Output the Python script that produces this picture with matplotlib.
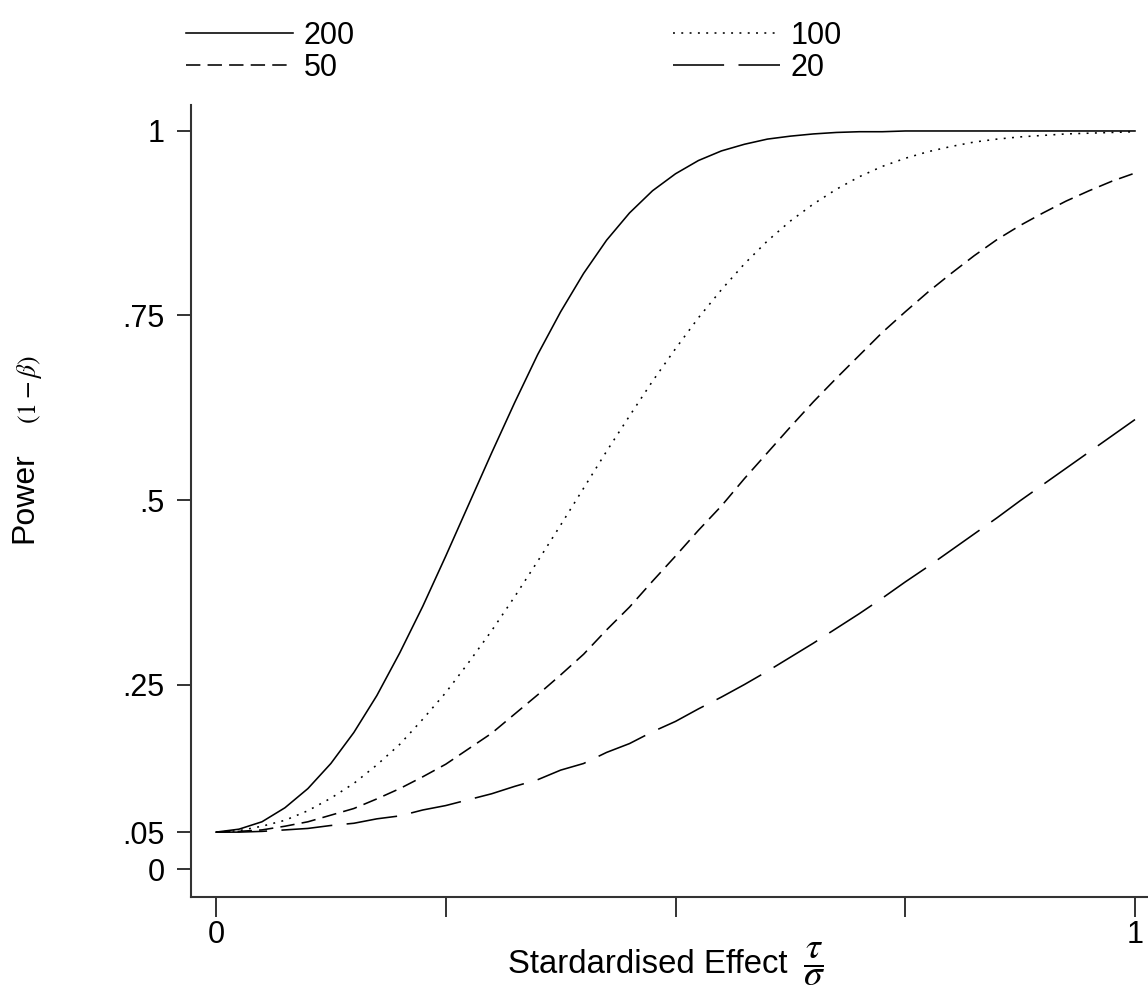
import matplotlib
matplotlib.use("Agg")
import matplotlib.pyplot as plt
from matplotlib.lines import Line2D

plt.rcParams['font.family'] = ['Liberation Sans', 'DejaVu Sans']
plt.rcParams['mathtext.fontset'] = 'stix'

# Standardised effect size (tau / sigma)
effect = [0.000, 0.025, 0.050, 0.075, 0.100, 0.125, 0.150, 0.175, 0.200, 0.225,
          0.250, 0.275, 0.300, 0.325, 0.350, 0.375, 0.400, 0.425, 0.450, 0.475,
          0.500, 0.525, 0.550, 0.575, 0.600, 0.625, 0.650, 0.675, 0.700, 0.725,
          0.750, 0.775, 0.800, 0.825, 0.850, 0.875, 0.900, 0.925, 0.950, 0.975,
          1.000]

# Power (1 - beta) for each total sample size
power_200 = [0.050, 0.054, 0.064, 0.083, 0.109, 0.143, 0.185, 0.235, 0.293, 0.356,
             0.424, 0.494, 0.564, 0.632, 0.697, 0.755, 0.807, 0.852, 0.889, 0.919,
             0.942, 0.960, 0.973, 0.982, 0.989, 0.993, 0.996, 0.998, 0.999, 0.999,
             1.000, 1.000, 1.000, 1.000, 1.000, 1.000, 1.000, 1.000, 1.000, 1.000,
             1.000]
power_100 = [0.050, 0.052, 0.058, 0.066, 0.079, 0.096, 0.116, 0.141, 0.169, 0.203,
             0.239, 0.280, 0.323, 0.369, 0.417, 0.466, 0.516, 0.566, 0.614, 0.661,
             0.705, 0.747, 0.785, 0.820, 0.851, 0.878, 0.901, 0.921, 0.938, 0.952,
             0.963, 0.972, 0.979, 0.985, 0.989, 0.992, 0.994, 0.996, 0.997, 0.998,
             0.999]
power_50 = [0.050, 0.051, 0.053, 0.058, 0.064, 0.073, 0.082, 0.095, 0.109, 0.125,
            0.142, 0.163, 0.184, 0.210, 0.236, 0.263, 0.291, 0.324, 0.355, 0.390,
            0.424, 0.459, 0.492, 0.529, 0.564, 0.599, 0.633, 0.665, 0.696, 0.727,
            0.755, 0.782, 0.807, 0.831, 0.853, 0.872, 0.889, 0.905, 0.919, 0.932,
            0.943]
power_20 = [0.050, 0.050, 0.051, 0.053, 0.055, 0.059, 0.062, 0.068, 0.072, 0.080,
            0.086, 0.094, 0.102, 0.112, 0.121, 0.134, 0.143, 0.158, 0.170, 0.186,
            0.200, 0.217, 0.233, 0.250, 0.268, 0.287, 0.306, 0.326, 0.346, 0.367,
            0.389, 0.410, 0.432, 0.454, 0.476, 0.499, 0.521, 0.543, 0.565, 0.587,
            0.609]

series_labels = ["200", "100", "50", "20"]

y_ticks = [0, 0.05, 0.25, 0.5, 0.75, 1]
y_tick_labels = ["0", ".05", ".25", ".5", ".75", "1"]
x_ticks = [0, 0.25, 0.5, 0.75, 1]
x_tick_labels = ["0", "", "", "", "1"]

W, H = 1148, 992
fig = plt.figure(figsize=(W / 100, H / 100), dpi=100)

# axes frame in pixels: left 191, bottom 897, top 105, right runs past the edge
ax = fig.add_axes([191 / W, 1 - 897 / H, (1160 - 191) / W, (897 - 105) / H])

lw = 1.15
ink = "black"
styles = {
    "200": "-",
    "100": (0, (1.2, 4.0)),
    "50": (0, (9.0, 4.5)),
    "20": (0, (32, 9)),
}
series = {"200": power_200, "100": power_100, "50": power_50, "20": power_20}
for name in series_labels:
    ax.plot(effect, series[name], color=ink, lw=lw, linestyle=styles[name])

ax.set_xlim(-0.0272, 1.0272)
ax.set_ylim(-0.0379, 1.0352)

for side in ("top", "right"):
    ax.spines[side].set_visible(False)
for side in ("left", "bottom"):
    ax.spines[side].set_linewidth(1.5)
    ax.spines[side].set_color("#333333")

ax.set_yticks(y_ticks)
ax.set_yticklabels(y_tick_labels)
ax.set_xticks(x_ticks)
ax.set_xticklabels(x_tick_labels)
ax.tick_params(axis="y", length=10, width=1.4, color="#333333", pad=9, labelsize=22)
ax.tick_params(axis="x", length=14.4, width=1.4, color="#333333", pad=2, labelsize=22)

# axis titles
fig.text(508 / W, 1 - 973 / H, "Stardardised Effect",
         fontsize=23.7, ha="left", va="baseline")
fig.text(803 / W, 1 - 973 / H, r"$\dfrac{\tau}{\sigma}$",
         fontsize=27, ha="left", va="baseline")
fig.text(24 / W, 1 - 498 / H, "Power", rotation=90, fontsize=23,
         ha="center", va="center")
fig.text(30 / W, 1 - 390 / H, r"$(1-\beta)$", rotation=90, fontsize=18.5,
         ha="center", va="center")

# legend: two columns, 200/50 on the left, 100/20 on the right
order = ["200", "50", "100", "20"]
handles = [Line2D([], [], color=ink, lw=lw, linestyle=styles[k]) for k in order]
fig.legend(handles, order, loc="upper left", bbox_to_anchor=(186 / W, 1 - 21 / H),
           ncol=2, frameon=False, borderpad=0, borderaxespad=0,
           handlelength=3.5, handletextpad=0.36, columnspacing=10.4,
           labelspacing=0.05, fontsize=22)

fig.savefig("out.png", dpi=100)
